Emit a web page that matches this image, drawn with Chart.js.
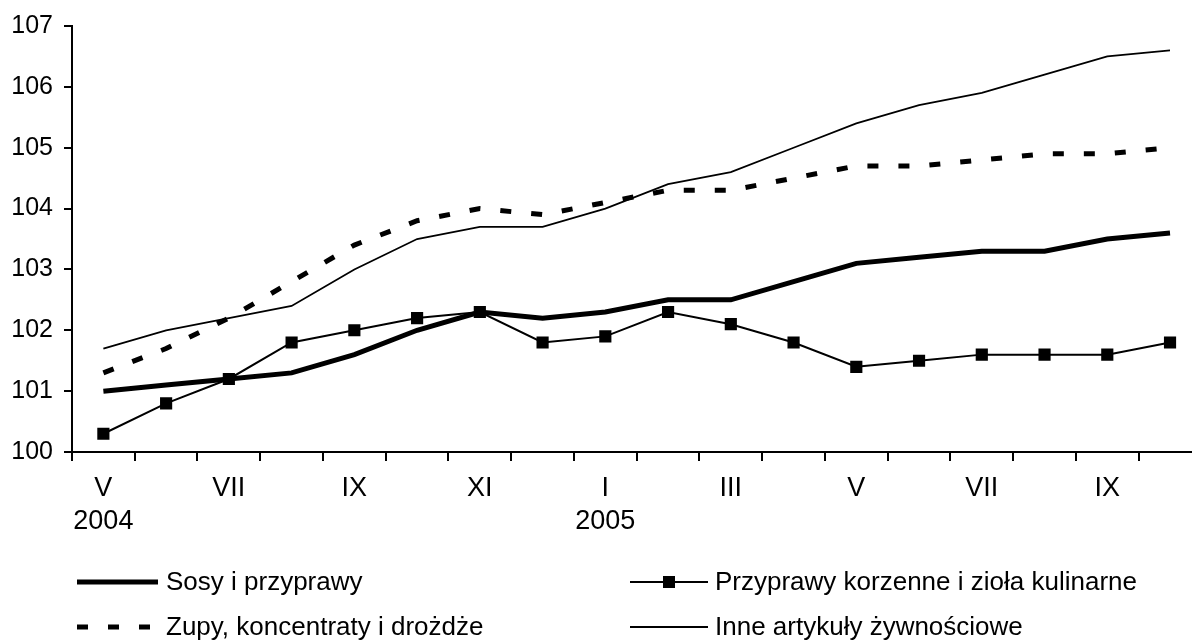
<!DOCTYPE html>
<html>
<head>
<meta charset="utf-8">
<script src="https://cdn.jsdelivr.net/npm/chart.js@4"></script>
<style>
  html, body { margin: 0; padding: 0; background: #fff; overflow: hidden; }
  #wrap { width: 1210px; height: 643px; }
</style>
</head>
<body>
<div id="wrap"><canvas id="chart" width="1210" height="643"></canvas></div>
<script>
const months = ['V', 'VI', 'VII', 'VIII', 'IX', 'X', 'XI', 'XII', 'I', 'II', 'III', 'IV', 'V', 'VI', 'VII', 'VIII', 'IX', 'X'];
const years = ['2004', '', '', '', '', '', '', '', '2005', '', '', '', '', '', '', '', '', ''];

const sosy = [101.0, 101.1, 101.2, 101.3, 101.6, 102.0, 102.3, 102.2, 102.3, 102.5, 102.5, 102.8, 103.1, 103.2, 103.3, 103.3, 103.5, 103.6];
const korzenne = [100.3, 100.8, 101.2, 101.8, 102.0, 102.2, 102.3, 101.8, 101.9, 102.3, 102.1, 101.8, 101.4, 101.5, 101.6, 101.6, 101.6, 101.8];
const zupy = [101.3, 101.7, 102.2, 102.8, 103.4, 103.8, 104.0, 103.9, 104.1, 104.3, 104.3, 104.5, 104.7, 104.7, 104.8, 104.9, 104.9, 105.0];
const inne = [101.7, 102.0, 102.2, 102.4, 103.0, 103.5, 103.7, 103.7, 104.0, 104.4, 104.6, 105.0, 105.4, 105.7, 105.9, 106.2, 106.5, 106.6];

const yMin = 100;
const yMax = 107;

const FONT = 'Arial, "Liberation Sans", sans-serif';

// legend drawn by hand: two columns, two rows under the axis
const customLegend = {
    id: 'customLegend',
    afterDraw(chart) {
        const ctx = chart.ctx;
        const cols = [{ x0: 77, x1: 158, tx: 166 }, { x0: 630, x1: 708, tx: 715 }];
        const rows = [582, 627];
        chart.data.datasets.forEach((ds, i) => {
            const c = cols[i % 2];
            const y = rows[Math.floor(i / 2)];
            ctx.save();
            ctx.strokeStyle = '#000';
            ctx.lineWidth = ds.borderWidth;
            ctx.setLineDash(ds.borderDash || []);
            ctx.beginPath();
            ctx.moveTo(c.x0, y);
            ctx.lineTo(c.x1, y);
            ctx.stroke();
            if (ds.pointRadius > 0) {
                ctx.fillStyle = '#000';
                ctx.fillRect((c.x0 + c.x1) / 2 - 6, y - 6, 12, 12);
            }
            ctx.fillStyle = '#000';
            ctx.font = '26px ' + FONT;
            ctx.textBaseline = 'middle';
            ctx.textAlign = 'left';
            ctx.fillText(ds.label, c.tx, y + 1);
            ctx.restore();
        });
    }
};

new Chart(document.getElementById('chart'), {
    type: 'line',
    data: {
        labels: months,
        datasets: [
            {
                label: 'Sosy i przyprawy',
                data: sosy,
                borderColor: '#000',
                borderWidth: 5,
                pointRadius: 0,
                tension: 0
            },
            {
                label: 'Przyprawy korzenne i zioła kulinarne',
                data: korzenne,
                borderColor: '#000',
                borderWidth: 2,
                pointStyle: 'rect',
                pointRadius: 8.6,
                pointBackgroundColor: '#000',
                pointBorderWidth: 0,
                tension: 0
            },
            {
                label: 'Zupy, koncentraty i drożdże',
                data: zupy,
                borderColor: '#000',
                borderWidth: 5,
                borderDash: [11, 20],
                pointRadius: 0,
                tension: 0
            },
            {
                label: 'Inne artykuły żywnościowe',
                data: inne,
                borderColor: '#000',
                borderWidth: 1.8,
                pointRadius: 0,
                tension: 0
            }
        ]
    },
    options: {
        responsive: false,
        animation: false,
        layout: { padding: { top: 26, right: 8, bottom: 91, left: 0 } },
        plugins: {
            legend: { display: false },
            tooltip: { enabled: false }
        },
        scales: {
            x: {
                offset: true,
                grid: { offset: true, drawOnChartArea: false, drawTicks: true, tickLength: 9, color: '#000', lineWidth: 2 },
                border: { color: '#000', width: 2 },
                ticks: {
                    color: '#000',
                    font: { family: FONT, size: 27, lineHeight: 1.22 },
                    padding: 11,
                    autoSkip: false,
                    maxRotation: 0,
                    callback: function (value, index) {
                        if (index % 2) return '';
                        return years[index] ? [months[index], years[index]] : months[index];
                    }
                },
                afterFit: (scale) => { scale.height = 100; }
            },
            y: {
                min: yMin,
                max: yMax,
                grid: { drawOnChartArea: false, drawTicks: true, tickLength: 8, color: '#000', lineWidth: 2 },
                border: { color: '#000', width: 2 },
                ticks: {
                    stepSize: 1,
                    color: '#000',
                    font: { family: FONT, size: 25 },
                    padding: 11
                },
                afterFit: (scale) => { scale.width = 72; }
            }
        }
    },
    plugins: [customLegend]
});
</script>
</body>
</html>
